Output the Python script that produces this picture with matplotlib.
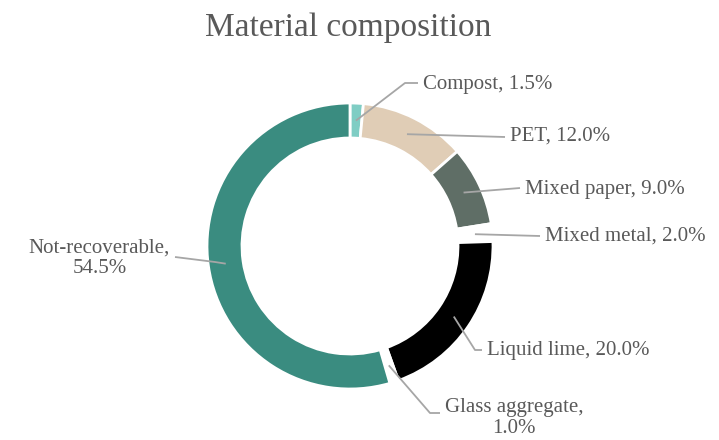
import matplotlib

matplotlib.use("Agg")
import matplotlib.pyplot as plt
import numpy as np

categories = ["Compost", "PET", "Mixed paper", "Mixed metal", "Liquid lime",
              "Glass aggregate", "Not-recoverable"]
shares = [1.5, 12.0, 9.0, 2.0, 20.0, 1.0, 54.5]
colors = ["#7fcdc4", "#e0cdb6", "#5f6e66", "#ffffff", "#000000", "#ffffff", "#3a8c80"]
label_texts = ["Compost, 1.5%", "PET, 12.0%", "Mixed paper, 9.0%", "Mixed metal, 2.0%",
               "Liquid lime, 20.0%", "Glass aggregate,\n1.0%", "Not-recoverable,\n54.5%"]

W, H = 719, 440
CX, CY = 350, 246          # donut centre, image pixels (y down)
R_OUT, RING = 143, 35
TEXT = "#595959"
LINE = "#a6a6a6"
FONT = ["Liberation Serif", "DejaVu Serif"]

# leader elbows / ends and label anchors in image pixels (y down)
leaders = [
    [(405, 83), (418, 83)],
    [(505, 137)],
    [(520, 188)],
    [(540, 236)],
    [(475, 350), (482, 350)],
    [(430, 413), (440, 413)],
    [(215, 262), (175, 257)],
]
label_pos = [
    ((423, 84), "left"),
    ((510, 136), "left"),
    ((525, 189), "left"),
    ((545, 236), "left"),
    ((487, 351), "left"),
    ((445, 418), "left"),
    ((170, 258), "right"),
]


def fy(y):
    return H - y


fig = plt.figure(figsize=(W / 100, H / 100), dpi=100)
ax = fig.add_axes([0, 0, 1, 1])
ax.pie(shares, colors=colors, startangle=90, counterclock=False,
       center=(CX, fy(CY)), radius=R_OUT,
       wedgeprops=dict(width=RING, edgecolor="white", linewidth=2))
ax.set_xlim(0, W)
ax.set_ylim(0, H)
ax.set_aspect("equal")
ax.axis("off")

cum = np.cumsum([0] + shares)
r_mid = R_OUT - RING / 2
for i, txt in enumerate(label_texts):
    mid = (cum[i] + cum[i + 1]) / 2 / 100 * 2 * np.pi
    ax_x = CX + r_mid * np.sin(mid)
    ax_y = CY - r_mid * np.cos(mid)
    pts = [(ax_x, ax_y)] + leaders[i]
    ax.plot([p[0] for p in pts], [fy(p[1]) for p in pts], color=LINE, lw=1.3,
            solid_capstyle="butt")
    (tx, ty), ha = label_pos[i]
    ax.text(tx, fy(ty), txt, ha=ha, va="center", color=TEXT, fontsize=15,
            family=FONT, linespacing=1.1, multialignment="center")

ax.text(348, fy(28), "Material composition", ha="center", va="center",
        color=TEXT, fontsize=24, family=FONT)

fig.savefig("out.png", dpi=100)
